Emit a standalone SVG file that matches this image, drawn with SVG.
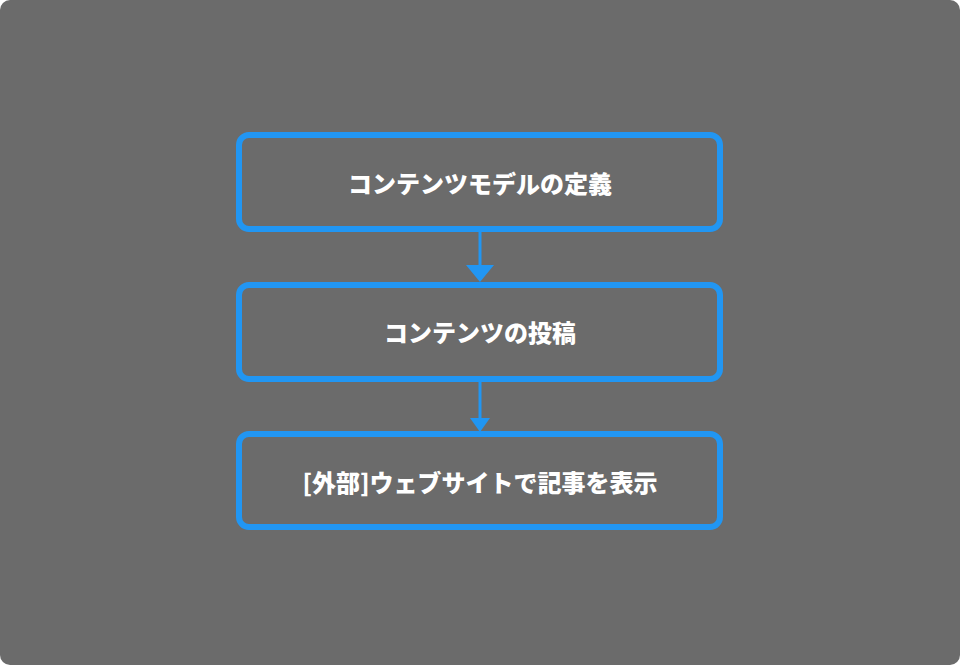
<svg xmlns="http://www.w3.org/2000/svg" width="960" height="665" viewBox="0 0 960 665">
<style>
.box{fill:#6b6b6b;stroke:#2196f3;stroke-width:6}
.t{fill:#fff;font-family:"Noto Sans CJK JP","Liberation Sans",sans-serif;font-weight:900;font-size:24px;text-anchor:middle;dominant-baseline:central}
.c{stroke:#2196f3;stroke-width:3;fill:none}
.h{fill:#2196f3}
</style>
<rect x="0" y="0" width="960" height="665" rx="10" fill="#6b6b6b"/>
<g id="connectors">
<line class="c" x1="480" y1="232" x2="480" y2="266"/>
<polygon class="h" points="466,265 494,265 480,282"/>
<line class="c" x1="480" y1="382" x2="480" y2="419"/>
<polygon class="h" points="470,418 490,418 480,432"/>
</g>
<g id="n1"><rect class="box" x="239" y="135" width="481" height="94" rx="10"/><text class="t" x="480" y="182">コンテンツモデルの定義</text></g>
<g id="n2"><rect class="box" x="239" y="285" width="481" height="94" rx="10"/><text class="t" x="480" y="331">コンテンツの投稿</text></g>
<g id="n3"><rect class="box" x="239" y="434" width="481" height="93" rx="10"/><text class="t" x="480" y="481">[外部]ウェブサイトで記事を表示</text></g>
</svg>
